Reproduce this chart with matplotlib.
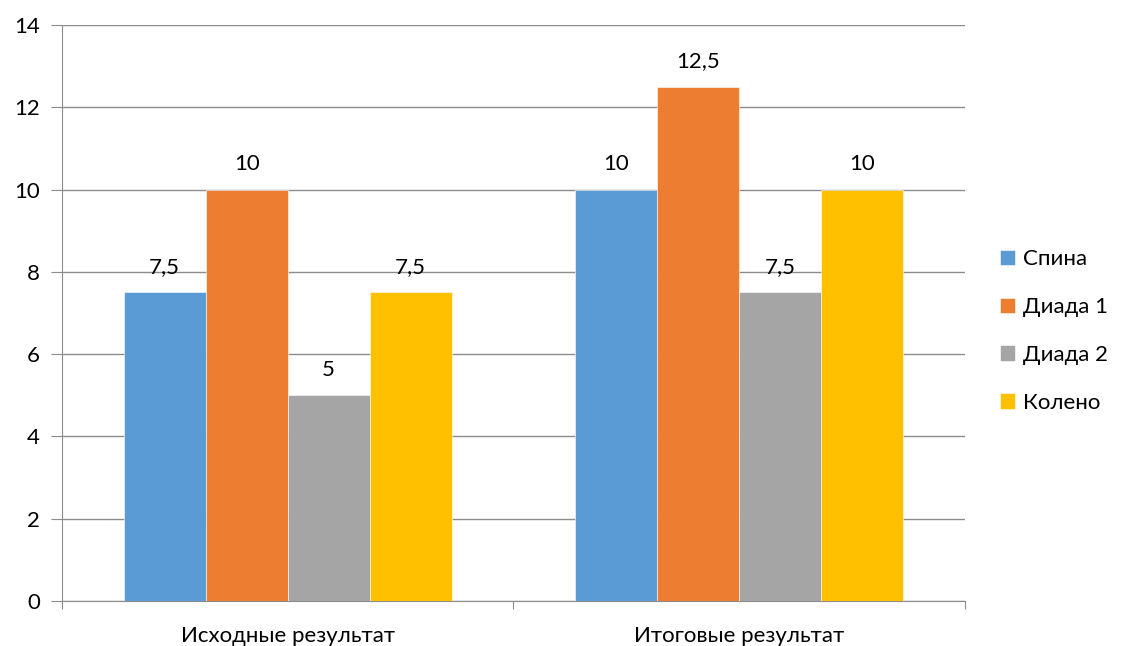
import matplotlib
matplotlib.use("Agg")
import matplotlib.pyplot as plt
import numpy as np

categories = ["Исходные результат", "Итоговые результат"]
series_names = ["Спина", "Диада 1", "Диада 2", "Колено"]
values = {
    "Спина": [7.5, 10],
    "Диада 1": [10, 12.5],
    "Диада 2": [5, 7.5],
    "Колено": [7.5, 10],
}
colors = ["#5B9BD5", "#ED7D31", "#A5A5A5", "#FFC000"]
y_ticks = [0, 2, 4, 6, 8, 10, 12, 14]

plt.rcParams["font.family"] = ["Lato", "DejaVu Sans"]
FS = 16

fig = plt.figure(figsize=(11.21, 6.46), dpi=100)
ax = fig.add_axes([0.0553, 0.0697, 0.8055, 0.8916])

x = np.arange(len(categories))
bar_w = 0.1816
n = len(series_names)
handles = []
for i, name in enumerate(series_names):
    offs = (i - (n - 1) / 2) * bar_w
    bars = ax.bar(x + offs, values[name], width=bar_w, color=colors[i],
                  edgecolor="white", linewidth=0.4, zorder=3, label=name)
    handles.append(bars)
    for xi, v in zip(x + offs, values[name]):
        txt = f"{v:g}".replace(".", ",")
        ax.annotate(txt, (xi, v), xytext=(0, 11), textcoords="offset points",
                    ha="center", va="bottom", fontsize=FS, color="#000000")

ax.set_xlim(-0.5, 1.5)
ax.set_ylim(0, 14)
ax.set_yticks(y_ticks)
ax.set_yticklabels([str(t) for t in y_ticks])
ax.yaxis.grid(True, color="#8C8C8C", linewidth=1.0, zorder=0)
ax.set_axisbelow(True)

ax.set_xticks([-0.5, 0.5, 1.5], minor=False)
ax.set_xticklabels([])
ax.set_xticks(x, minor=True)
ax.set_xticklabels(categories, minor=True)
ax.tick_params(axis="x", which="minor", length=0, pad=18, labelsize=FS)
ax.tick_params(axis="x", which="major", length=6, color="#8C8C8C", direction="out")
ax.tick_params(axis="y", length=8, color="#8C8C8C", direction="out", pad=8, labelsize=FS)

for side in ["top", "right"]:
    ax.spines[side].set_visible(False)
ax.spines["left"].set_color("#8C8C8C")
ax.spines["bottom"].set_color("#8C8C8C")

leg = fig.legend(handles=handles, labels=series_names, loc="center left",
                 bbox_to_anchor=(0.878, 0.4876), frameon=False, fontsize=FS,
                 handlelength=0.7, handleheight=0.7, handletextpad=0.35,
                 labelspacing=1.25, borderpad=0.2)

fig.savefig("out.png", dpi=100)
